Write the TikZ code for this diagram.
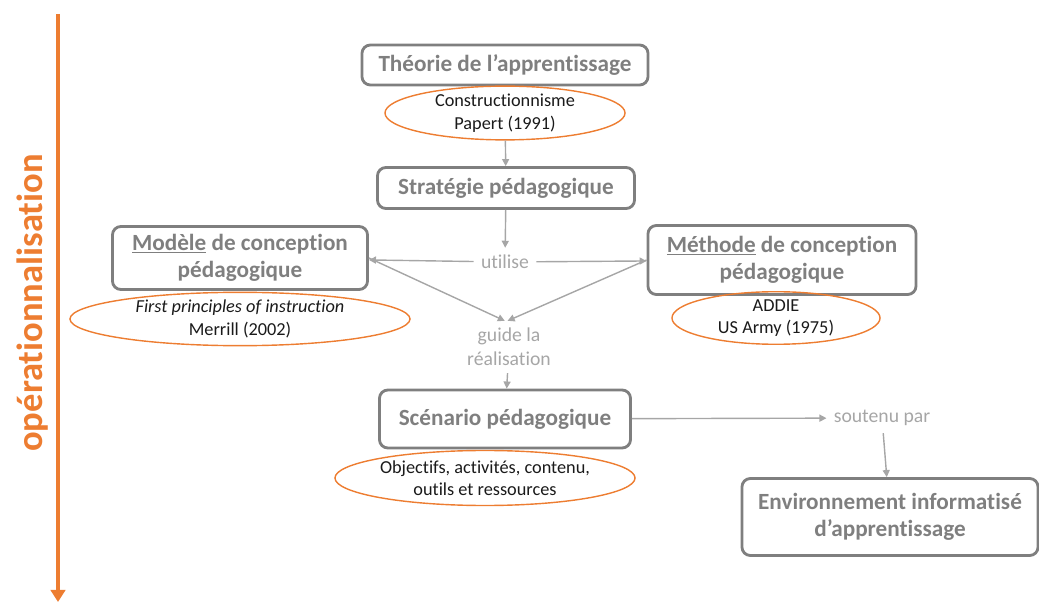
\documentclass[tikz,border=0pt]{standalone}
\usepackage{fontspec}
\setmainfont{Carlito}[Ligatures=NoCommon]
\usetikzlibrary{arrows.meta,shapes.geometric}
\definecolor{boxgray}{HTML}{7F7F7F}
\definecolor{linegray}{HTML}{A6A6A6}
\definecolor{orangeline}{HTML}{ED7D31}
\definecolor{darktext}{HTML}{1A1A1A}
\tikzset{
  etape/.style={draw=boxgray, line width=2pt, rounded corners=6pt, text=boxgray,
    font=\fontsize{16.5}{19.5}\selectfont\bfseries, align=center, inner sep=0pt},
  exemple/.style={ellipse, draw=orangeline, line width=1pt, text=darktext,
    font=\fontsize{13}{16}\selectfont, align=center, inner sep=0pt},
  lien/.style={text=linegray, font=\fontsize{14}{17}\selectfont, align=center, inner sep=5pt},
  fleche/.style={draw=linegray, line width=1pt, -{Triangle[length=5pt,width=5pt]}}
}
\begin{document}
\begin{tikzpicture}[x=0.025cm,y=-0.025cm]
      \useasboundingbox (0,0) rectangle (1039,602);
      \draw
        (505,65) node[etape, minimum width=7.15cm, minimum height=1cm] (theorie){Théorie de l’apprentissage}
        (505,113) node[exemple, minimum width=6cm, minimum height=1.25cm] (constr){Constructionnisme\\Papert (1991)}
        (506,188) node[etape, minimum width=6.425cm, minimum height=1.025cm] (strategie){Stratégie pédagogique}
        (505,262) node[lien] (utilise){utilise}
        (240,258) node[etape, minimum width=6.375cm, minimum height=1.575cm] (modele){\underline{Modèle} de conception\\pédagogique}
        (240,319) node[exemple, minimum width=8.5cm, minimum height=1.2cm] (merrill){\textit{First principles of instruction}\\Merrill (2002)}
        (782,260) node[etape, minimum width=6.7cm, minimum height=1.725cm] (methode){\underline{Méthode} de conception\\pédagogique}
        (776,318) node[exemple, minimum width=5.2cm, minimum height=1.075cm] (addie){ADDIE\\US Army (1975)}
        (509,347) node[lien] (guide){guide la\\réalisation}
        (505,419) node[etape, minimum width=6.275cm, minimum height=1.45cm] (scenario){Scénario pédagogique}
        (485,478) node[exemple, minimum width=7.5cm, minimum height=1.375cm] (objectifs){Objectifs, activités, contenu,\\outils et ressources}
        (882,418) node[lien] (soutenu){soutenu par}
        (890,517) node[etape, minimum width=7.4cm, minimum height=1.925cm] (eia){Environnement informatisé\\d’apprentissage}
        (33,303) node[rotate=90, text=orangeline, font=\fontsize{26}{30}\selectfont\bfseries] (ope){opérationnalisation};
      \coordinate (haut) at (58,14);
      \coordinate (bas) at (58,602);
      \draw[orangeline, line width=3pt, -{Triangle[length=0.3cm,width=0.36cm]}] (haut) to (bas);
      \begin{scope}[fleche]
        \draw (constr) to (strategie);
        \draw (strategie) to (utilise);
        \draw (utilise) to (modele);
        \draw (utilise) to (methode);
        \draw (modele.east) to ([xshift=-3pt]guide.north);
        \draw (methode.west) to ([xshift=-1pt]guide.north);
        \draw (guide) to (scenario);
        \draw (scenario) to (soutenu);
        \draw (soutenu) to (eia);
      \end{scope}
    \end{tikzpicture}
\end{document}
